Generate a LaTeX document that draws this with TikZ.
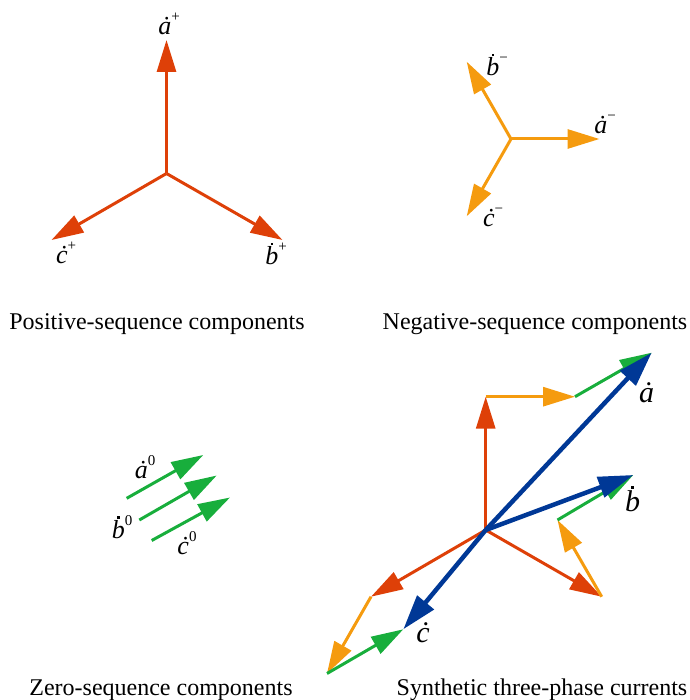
\documentclass[tikz,border=0pt]{standalone}
\usepackage{fontspec}
\setmainfont{Liberation Serif}
\usetikzlibrary{arrows.meta}
\definecolor{cred}{RGB}{222,64,8}
\definecolor{corange}{RGB}{245,155,15}
\definecolor{cgreen}{RGB}{24,174,60}
\definecolor{cblue}{RGB}{0,56,150}
\newcommand\supx[1]{\raisebox{0.5em}{\fontsize{15}{15}\selectfont #1}}
\newcommand\dotb{\makebox[0pt][l]{\hspace*{0.21em}\rule[0.76em]{0.09em}{0.09em}}\textit{b}}
\newcommand\dota{\textit{ȧ}}
\newcommand\dotc{\textit{ċ}}
\tikzset{
  vec/.style={line width=3pt, -{Triangle[length=32pt,width=19pt]}},
  redvec/.style={vec, draw=cred, fill=cred},
  orvec/.style={vec, draw=corange, fill=corange},
  grvec/.style={vec, draw=cgreen, fill=cgreen},
  bluevec/.style={line width=4.5pt, draw=cblue, fill=cblue, -{Triangle[length=35pt,width=21pt]}},
  lbl/.style={inner sep=0pt, font=\fontsize{26}{26}\selectfont},
  slbl/.style={inner sep=0pt, font=\fontsize{30}{30}\selectfont},
  captext/.style={inner sep=0pt, anchor=base, font=\fontsize{24}{24}\selectfont}
}
\begin{document}
\begin{tikzpicture}[x=1pt,y=-1pt]
\useasboundingbox (0,0) rectangle (689,700);
% Positive sequence
\coordinate (P) at (166.5,173.5);
\coordinate (Pa) at (166.5,40);
\coordinate (Pb) at (282.5,240);
\coordinate (Pc) at (51.5,240);
\draw[redvec] (P) -- (Pa);
\draw[redvec] (P) -- (Pb);
\draw[redvec] (P) -- (Pc);
\node[lbl] (lPa) at (169,24) {\dota\supx{+}};
\node[lbl] (lPb) at (276,254) {\dotb\supx{+}};
\node[lbl] (lPc) at (66,253) {\dotc\supx{+}};
\node[captext] (capP) at (157,329) {Positive-sequence components};
% Negative sequence
\coordinate (N) at (511,139);
\coordinate (Na) at (599.5,139);
\coordinate (Nb) at (466.7,61.7);
\coordinate (Nc) at (466.7,216.3);
\draw[orvec] (N) -- (Na);
\draw[orvec] (N) -- (Nb);
\draw[orvec] (N) -- (Nc);
\node[lbl] (lNa) at (605,124) {\dota\supx{−}};
\node[lbl] (lNb) at (497,65) {\dotb\supx{−}};
\node[lbl] (lNc) at (493,217) {\dotc\supx{−}};
\node[captext] (capN) at (535,329) {Negative-sequence components};
% Zero sequence
\coordinate (Z1s) at (126.7,498.3);
\coordinate (Z1e) at (203.3,455);
\coordinate (Z2s) at (139.3,520);
\coordinate (Z2e) at (216.7,475.5);
\coordinate (Z3s) at (151.7,540.5);
\coordinate (Z3e) at (230,497.5);
\draw[grvec] (Z1s) -- (Z1e);
\draw[grvec] (Z2s) -- (Z2e);
\draw[grvec] (Z3s) -- (Z3e);
\node[lbl] (lZa) at (145,467) {\dota\supx{0}};
\node[lbl] (lZb) at (122,527) {\dotb\supx{0}};
\node[lbl] (lZc) at (187,543) {\dotc\supx{0}};
\node[captext] (capZ) at (161,695) {Zero-sequence components};
% Synthetic
\coordinate (O) at (485.7,530);
\coordinate (Sa1) at (485.7,396.7);
\coordinate (Sa2) at (575,396.7);
\coordinate (Sa) at (651.7,352.7);
\coordinate (Sb1) at (601.7,596.7);
\coordinate (Sb2) at (557.5,520);
\coordinate (Sb) at (633.3,475);
\coordinate (Sc1) at (371,596.7);
\coordinate (Sc2) at (327,673.5);
\coordinate (Sc) at (403.3,629.3);
\draw[redvec] (O) -- (Sa1);
\draw[orvec] (Sa1) -- (Sa2);
\draw[grvec] (Sa2) -- (Sa);
\draw[redvec] (O) -- (Sb1);
\draw[orvec] (Sb1) -- (Sb2);
\draw[grvec] (Sb2) -- (Sb);
\draw[redvec] (O) -- (Sc1);
\draw[orvec] (Sc1) -- (Sc2);
\draw[grvec] (Sc2) -- (Sc);
\draw[bluevec] (O) -- (Sa);
\draw[bluevec] (O) -- (Sb);
\draw[bluevec] (O) -- (Sc);
\node[slbl] (lSa) at (646.5,393) {\dota};
\node[slbl] (lSb) at (632.5,499) {\dotb};
\node[slbl] (lSc) at (423,633) {\dotc};
\node[captext] (capS) at (542,695) {Synthetic three-phase currents};
\end{tikzpicture}
\end{document}
